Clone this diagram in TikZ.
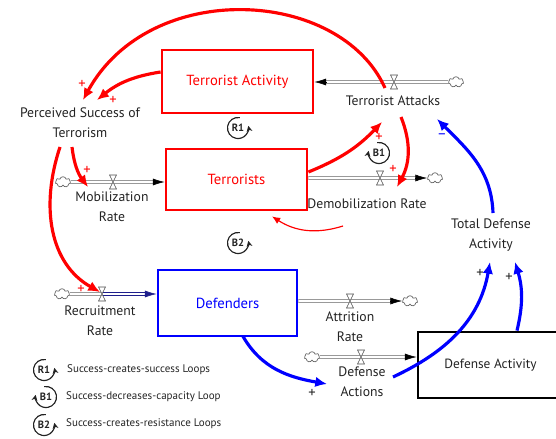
\documentclass[tikz,border=0pt]{standalone}
\usepackage{fontspec}
\setmainfont{PT Sans}
\usetikzlibrary{arrows.meta,shapes.symbols}

\definecolor{sdred}{RGB}{255,0,0}
\definecolor{sdblue}{RGB}{0,0,255}
\definecolor{sdnavy}{RGB}{30,30,140}
\definecolor{sdtext}{RGB}{35,35,35}

\tikzstyle{stock}=[draw,line width=2.4pt,rectangle,inner sep=0pt,font=\fontsize{12.5}{14}\selectfont]
\tikzstyle{var}=[align=center,text=sdtext,font=\fontsize{11.7}{17}\selectfont,inner sep=1pt]
\tikzstyle{sink}=[draw=black!60,fill=white,cloud,cloud puffs=7,minimum width=13pt,minimum height=9pt,inner sep=0pt,line width=0.6pt]
\tikzstyle{pipe}=[draw=black!70,double=white,double distance=1.8pt,line width=0.5pt]
\tikzstyle{pipehead}=[-{Latex[length=10pt,width=6pt]},line width=0.5pt]
\tikzstyle{redlink}=[sdred,line width=2.7pt,-{Latex[length=10pt,width=9pt]}]
\tikzstyle{bluelink}=[sdblue,line width=2.7pt,-{Latex[length=10pt,width=9pt]}]
\tikzstyle{sign}=[font=\fontsize{12.5}{12.5}\selectfont,inner sep=0pt]
\tikzstyle{loopname}=[font=\bfseries\fontsize{9}{9}\selectfont,text=sdtext,inner sep=0pt]
\tikzstyle{looparr}=[sdtext,line width=1pt,-{Stealth[length=5pt,width=5pt]}]
\tikzstyle{legend}=[anchor=west,text=sdtext,font=\fontsize{9.4}{11}\selectfont,inner sep=0pt]

\newcommand{\valve}[1]{\draw[black!70,fill=white,line width=0.5pt] (#1) ++(-3.5,-7) -- ++(7,0) -- ++(-7,14) -- ++(7,0) -- cycle;}
\newcommand{\loopR}[1]{\draw[looparr] (#1.center) ++(80:9pt) arc (80:372:9pt);}
\newcommand{\loopL}[1]{\draw[looparr] (#1.center) ++(100:9pt) arc (100:-192:9pt);}

\begin{document}
\begin{tikzpicture}[x=0.03cm,y=0.03cm]
\useasboundingbox (0,0) rectangle (556,438);

% stocks
\node (TAct)[stock,draw=sdred,text=sdred,minimum width=4.53cm,minimum height=1.89cm] at (237.5,356.5) {Terrorist Activity};
\node (Terr)[stock,draw=sdred,text=sdred,minimum width=4.23cm,minimum height=1.83cm] at (236.5,258.5) {Terrorists};
\node (Def)[stock,draw=sdblue,text=sdblue,minimum width=4.17cm,minimum height=1.98cm] at (227.5,135) {Defenders};
\node (DAct)[stock,draw=black,text=sdtext,font=\fontsize{11.4}{13}\selectfont,minimum width=4.35cm,minimum height=1.98cm] at (490.5,73) {Defense Activity};

% variables
\node (PST)[var] at (80,315) {Perceived Success of\\Terrorism};
\node (TAtk)[var] at (393,337) {Terrorist Attacks};
\node (MobR)[var] at (112,231) {Mobilization\\Rate};
\node (DemR)[var] at (367,234) {Demobilization Rate};
\node (RecR)[var] at (100,117) {Recruitment\\Rate};
\node (AttR)[var] at (350,111) {Attrition\\Rate};
\node (DefA)[var] at (362,56) {Defense\\Actions};
\node (TDA)[var] at (491,203) {Total Defense\\Activity};

% clouds and valves
\node (cAtk)[sink] at (456,356) {};
\node (cMob)[sink] at (63,256) {};
\node (cDem)[sink] at (435,260) {};
\node (cRec)[sink] at (62,144) {};
\node (cAtt)[sink] at (410,137) {};
\node (cDef)[sink] at (312,81) {};
\coordinate (vAtk) at (394,356);
\coordinate (vMob) at (113,256);
\coordinate (vDem) at (380,260);
\coordinate (vRec) at (102,144);
\coordinate (vAtt) at (350,137);
\coordinate (vDef) at (361,81);
\coordinate (eAtk) at (TAct.east |- vAtk);
\coordinate (eMob) at (Terr.west |- vMob);
\coordinate (eDem) at (Terr.east |- vDem);
\coordinate (eRec) at (Def.west |- vRec);
\coordinate (eAtt) at (Def.east |- vAtt);
\coordinate (eDef) at (DAct.west |- vDef);

% flows
\draw[pipe] (cAtk.west) -- ([xshift=9pt]eAtk);
\draw[pipehead] ([xshift=10pt]eAtk) -- (eAtk);
\draw[pipe] (cMob.east) -- ([xshift=-9pt]eMob);
\draw[pipehead] ([xshift=-10pt]eMob) -- (eMob);
\draw[pipe] (eDem) -- ([xshift=-9pt]cDem.west);
\draw[pipehead] ([xshift=-10pt]cDem.west) -- (cDem.west);
\draw[pipe] (cRec.east) -- (vRec);
\draw[pipe,draw=sdnavy] (vRec) -- ([xshift=-9pt]eRec);
\draw[pipehead,sdnavy] ([xshift=-10pt]eRec) -- (eRec);
\draw[pipe] (eAtt) -- ([xshift=-9pt]cAtt.west);
\draw[pipehead] ([xshift=-10pt]cAtt.west) -- (cAtt.west);
\draw[pipe] (cDef.east) -- ([xshift=-9pt]eDef);
\draw[pipehead] ([xshift=-10pt]eDef) -- (eDef);
\foreach \v in {vAtk,vMob,vDem,vRec,vAtt,vDef}{
  \valve{\v}
}

% red links
\draw[redlink] ([shift={(-8,13)}]TAtk.center) .. controls +(-45,100) and +(67,122) .. ([shift={(3,23)}]PST.center);
\draw[redlink] ([shift={(0,9.5)}]TAct.west) to[bend right=15] ([shift={(17,23)}]PST.center);
\draw[redlink] ([shift={(-8,-24)}]PST.center) to[bend right=15] ([shift={(-25,-5)}]vMob);
\draw[redlink] ([shift={(-20,-24)}]PST.center) .. controls +(-20,-60) and +(-50,28) .. ([shift={(-2,2)}]vRec);
\draw[redlink] ([shift={(0,7.5)}]Terr.east) to[bend right=12] ([shift={(-11,-21)}]TAtk.center);
\draw[redlink] ([shift={(8,-16)}]TAtk.center) to[bend left=25] ([shift={(17,-9)}]vDem);
\coordinate (thinS) at (343,212);
\draw[sdred,line width=1pt,-{Latex[length=7pt,width=6pt]}] (thinS) to[bend left=25] ([shift={(35.5,-5)}]Terr.south);

% blue links
\draw[bluelink] ([shift={(15.5,1)}]Def.south) to[out=-60,in=170] ([shift={(-35,-2)}]DefA.center);
\draw[bluelink] ([shift={(31,5)}]DefA.center) to[out=25,in=-100] ([shift={(-1,-27)}]TDA.center);
\draw[bluelink] ([shift={(26.5,0)}]DAct.north) to[bend right=15] ([shift={(24,-27)}]TDA.center);
\draw[bluelink] ([shift={(2,22)}]TDA.center) to[out=92,in=-45] ([shift={(44,-18)}]TAtk.center);

% polarities
\foreach \x/\y in {82/354, 113/338, 87/268, 81/149, 379/301, 393/269}{
  \node[sign,text=sdred] at (\x,\y) {+};
}
\foreach \x/\y in {312/45, 480/165, 509/161}{
  \node[sign,text=sdtext] at (\x,\y) {+};
}
\node[sign,text=sdblue] at (442,302) {\textendash};

% loop markers
\node (R1)[loopname] at (238,310) {R1};
\node (B1)[loopname] at (379,285) {B1};
\node (B2)[loopname] at (238,195) {B2};
\loopR{R1}
\loopL{B1}
\loopR{B2}

% legend
\node (lR1)[loopname] at (44,68) {R1};
\node (lB1)[loopname] at (46,41) {B1};
\node (lB2)[loopname] at (44,13) {B2};
\loopR{lR1}
\loopL{lB1}
\loopR{lB2}
\node (tR1)[legend] at (67,68) {Success-creates-success Loops};
\node (tB1)[legend] at (66,41) {Success-decreases-capacity Loop};
\node (tB2)[legend] at (66,14) {Success-creates-resistance Loops};
\end{tikzpicture}
\end{document}
